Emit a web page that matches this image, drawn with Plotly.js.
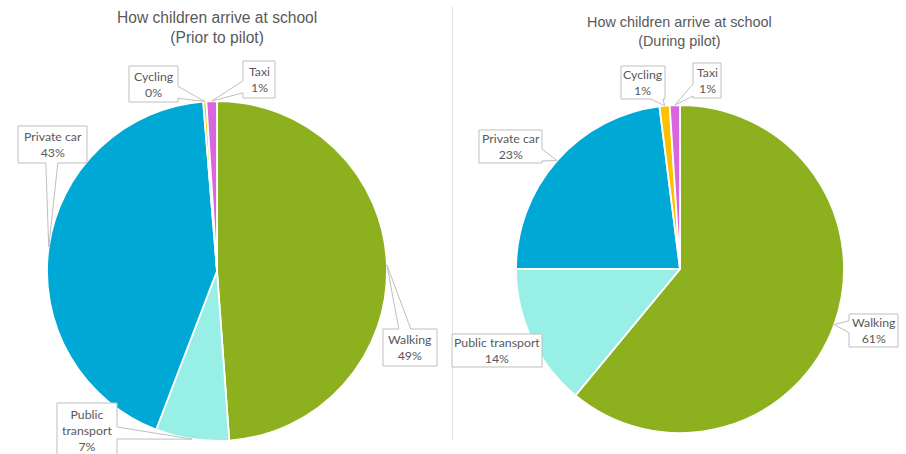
<!DOCTYPE html>
<html>
<head>
<meta charset="utf-8">
<script src="https://cdn.plot.ly/plotly-3.0.1.min.js"></script>
<style>html,body{margin:0;padding:0;background:#fff;}#chart{width:906px;height:454px;}</style>
</head>
<body>
<div id="chart"></div>
<script>
// ---- data ----
const categories = ["Walking", "Public transport", "Private car", "Cycling", "Taxi"];
const priorValues = [49, 7, 43, 0.3, 1];
const duringValues = [61, 14, 23, 1, 1];
const sliceColors = ["#8DB01F", "#97EFE6", "#00A8D6", "#FFC000", "#D966DC"];
const titlePrior = "How children arrive at school<br>(Prior to pilot)";
const titleDuring = "How children arrive at school<br>(During pilot)";
// label text line breaks per chart (category label as shown)
const priorLabelText = ["Walking", "Public<br>transport", "Private car", "Cycling", "Taxi"];
const duringLabelText = ["Walking", "Public transport", "Private car", "Cycling", "Taxi"];

// ---- layout helpers (pixel geometry) ----
const W = 906, H = 454;
const X = x => x / W;
const Y = y => 1 - y / H;

const pies = [
  {cx: 217, cy: 271, r: 170, values: priorValues, text: priorLabelText,
   boxes: [[383,329,437,366],[57,403,117,458],[18,126,87,163],[129,66,178,102],[243,61,275,98]]},
  {cx: 680, cy: 269, r: 164, values: duringValues, text: duringLabelText,
   boxes: [[849,314,898,347],[452,334,542,367],[479,130,542,163],[621,66,665,99],[693,63,721,98]]}
];

const traces = [];
const shapes = [];
const annotations = [];
const labelFont = {family: "Lato, 'Noto Sans', sans-serif", size: 12.3, color: "#595959"};

pies.forEach((p, pi) => {
  traces.push({
    type: "pie",
    labels: categories,
    values: p.values,
    sort: false,
    direction: "clockwise",
    rotation: 0,
    textinfo: "none",
    hoverinfo: "label+percent",
    marker: {colors: sliceColors, line: {color: "#ffffff", width: 1.8}},
    domain: {x: [X(p.cx - p.r), X(p.cx + p.r)], y: [Y(p.cy + p.r), Y(p.cy - p.r)]},
    showlegend: false
  });
  const total = p.values.reduce((a, b) => a + b, 0);
  let cum = 0;
  p.values.forEach((v, i) => {
    const mid = (cum + v / 2) / total;
    cum += v;
    const th = 2 * Math.PI * mid;
    const tx = p.cx + p.r * Math.sin(th);
    const ty = p.cy - p.r * Math.cos(th);
    const [x0, y0, x1, y1] = p.boxes[i];
    const bcx = (x0 + x1) / 2, bcy = (y0 + y1) / 2;
    const hw = (x1 - x0) / 2, hh = (y1 - y0) / 2;
    const inside = tx >= x0 && tx <= x1 && ty >= y0 && ty <= y1;
    const tw = 6;
    let side = null, b1, b2;
    if (!inside) {
      const dx = tx - bcx, dy = ty - bcy;
      if (Math.abs(dx) / hw > Math.abs(dy) / hh) {
        side = dx > 0 ? "right" : "left";
        let yi = bcy + dy * hw / Math.abs(dx);
        yi = Math.max(y0 + 2 + tw, Math.min(y1 - 2 - tw, yi));
        b1 = yi - tw; b2 = yi + tw;
      } else {
        side = dy > 0 ? "bottom" : "top";
        let xi = bcx + dx * hh / Math.abs(dy);
        xi = Math.max(x0 + 2 + tw, Math.min(x1 - 2 - tw, xi));
        b1 = xi - tw; b2 = xi + tw;
      }
    }
    const pts = [[x0, y0]];
    if (side === "top") pts.push([b1, y0], [tx, ty], [b2, y0]);
    pts.push([x1, y0]);
    if (side === "right") pts.push([x1, b1], [tx, ty], [x1, b2]);
    pts.push([x1, y1]);
    if (side === "bottom") pts.push([b2, y1], [tx, ty], [b1, y1]);
    pts.push([x0, y1]);
    if (side === "left") pts.push([x0, b2], [tx, ty], [x0, b1]);
    const path = "M " + pts.map(q => X(q[0]).toFixed(5) + "," + Y(q[1]).toFixed(5)).join(" L ") + " Z";
    shapes.push({type: "path", xref: "paper", yref: "paper", path: path,
      fillcolor: "#ffffff", line: {color: "#BFBFBF", width: 1}, layer: "above"});
    const pct = Math.round(v / total * 100);
    annotations.push({xref: "paper", yref: "paper", x: X(bcx), y: Y(bcy),
      xanchor: "center", yanchor: "middle", showarrow: false,
      text: p.text[i] + "<br>" + pct + "%", font: labelFont, align: "center"});
  });
});

// titles
annotations.push({xref: "paper", yref: "paper", x: X(216.5), y: Y(27), xanchor: "center", yanchor: "middle",
  showarrow: false, text: titlePrior, align: "center",
  font: {family: "'Liberation Sans', Arial, sans-serif", size: 15.6, color: "#595959"}});
annotations.push({xref: "paper", yref: "paper", x: X(679.5), y: Y(32), xanchor: "center", yanchor: "middle",
  showarrow: false, text: titleDuring, align: "center",
  font: {family: "'Liberation Sans', Arial, sans-serif", size: 14.4, color: "#595959"}});

// separator
shapes.push({type: "line", xref: "paper", yref: "paper", x0: X(452.5), x1: X(452.5), y0: Y(6), y1: Y(440),
  line: {color: "#E6E6E6", width: 1}, layer: "below"});

Plotly.newPlot("chart", traces, {
  width: W, height: H,
  margin: {l: 0, r: 0, t: 0, b: 0},
  paper_bgcolor: "#ffffff",
  showlegend: false,
  shapes: shapes,
  annotations: annotations
}, {displayModeBar: false, staticPlot: true});
</script>
</body>
</html>
